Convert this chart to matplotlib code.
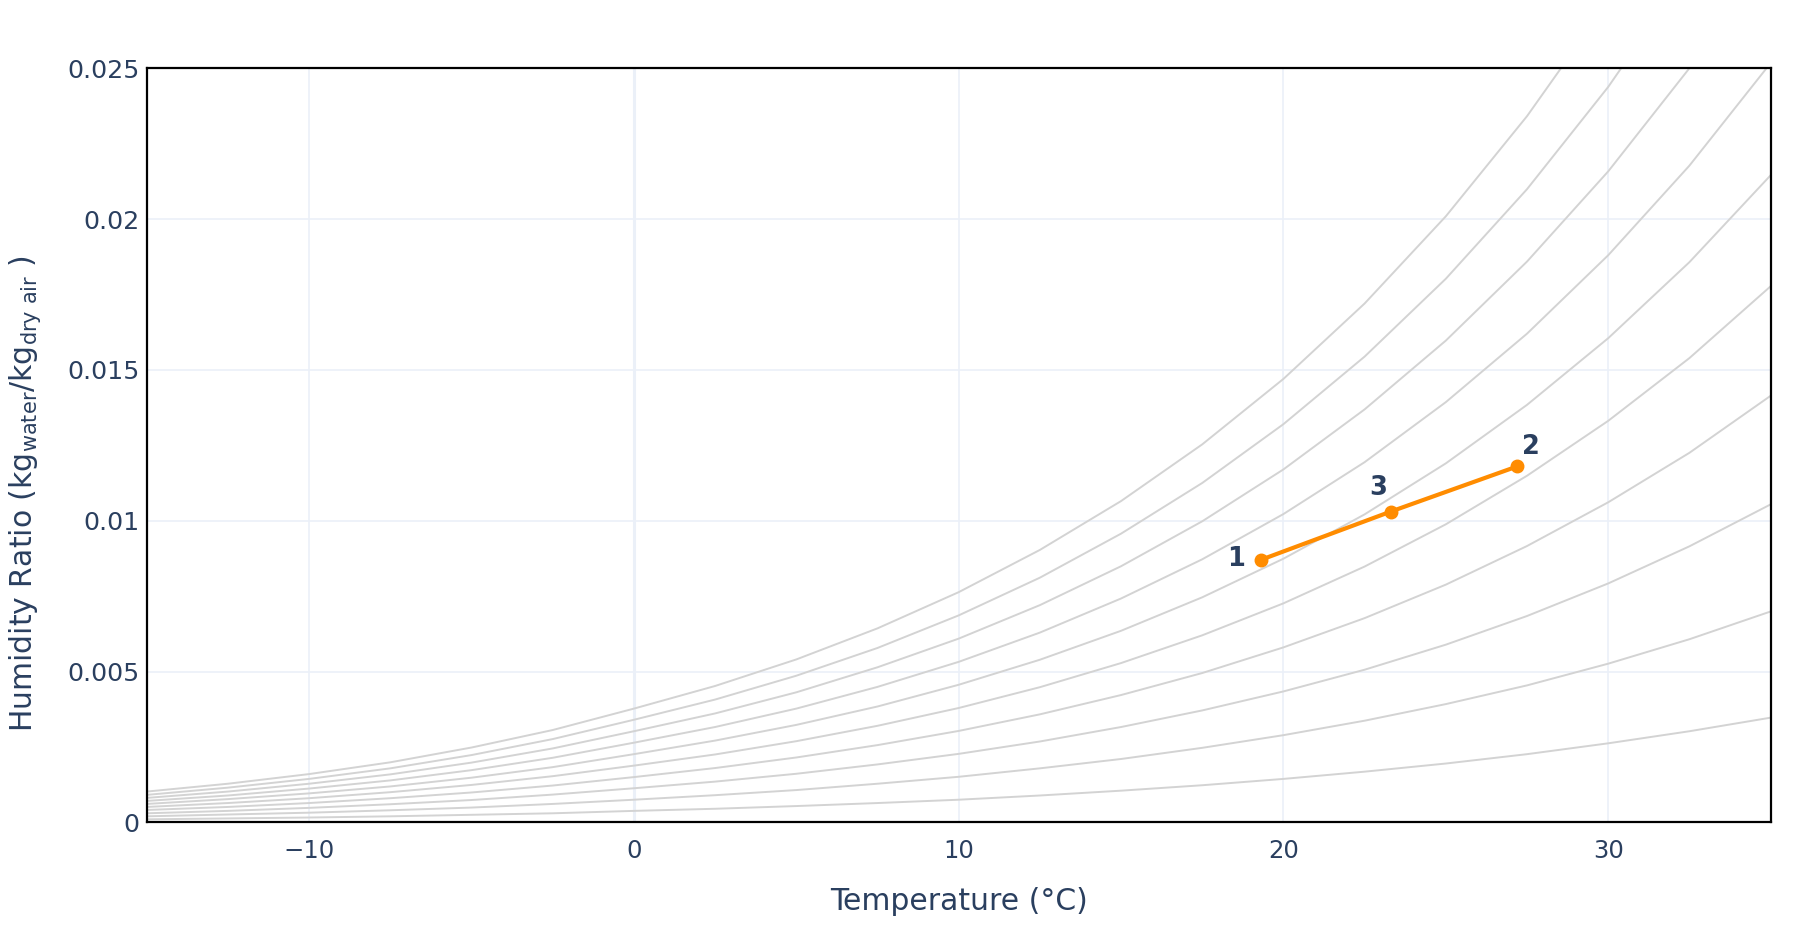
import matplotlib
matplotlib.use("Agg")
import matplotlib.pyplot as plt
from matplotlib.ticker import FuncFormatter

# dry-bulb temperatures (degC) where the RH curves are sampled
temps = [-15, -12.5, -10, -7.5, -5, -2.5, 0, 2.5, 5, 7.5, 10,
         12.5, 15, 17.5, 20, 22.5, 25, 27.5, 30, 32.5, 35]

# humidity ratio (g/kg) along each relative humidity curve, 10% .. 100%
rh10 = [0.10, 0.13, 0.16, 0.20, 0.25, 0.30, 0.38, 0.45, 0.54, 0.64, 0.75,
        0.89, 1.05, 1.23, 1.44, 1.68, 1.95, 2.26, 2.62, 3.02, 3.47]
rh20 = [0.20, 0.26, 0.32, 0.40, 0.49, 0.61, 0.75, 0.90, 1.07, 1.28, 1.51,
        1.79, 2.10, 2.47, 2.89, 3.37, 3.92, 4.54, 5.26, 6.07, 6.99]
rh30 = [0.30, 0.38, 0.48, 0.60, 0.74, 0.92, 1.13, 1.35, 1.61, 1.92, 2.27,
        2.68, 3.16, 3.71, 4.34, 5.06, 5.89, 6.84, 7.92, 9.15, 10.54]
rh40 = [0.41, 0.51, 0.64, 0.80, 0.99, 1.22, 1.50, 1.80, 2.15, 2.56, 3.03,
        3.58, 4.22, 4.95, 5.80, 6.77, 7.88, 9.16, 10.61, 12.25, 14.14]
rh50 = [0.51, 0.64, 0.80, 1.00, 1.24, 1.53, 1.88, 2.25, 2.69, 3.20, 3.79,
        4.48, 5.28, 6.20, 7.26, 8.48, 9.88, 11.49, 13.31, 15.39, 17.77]
rh60 = [0.61, 0.77, 0.96, 1.19, 1.48, 1.83, 2.26, 2.71, 3.23, 3.84, 4.56,
        5.39, 6.35, 7.46, 8.74, 10.21, 11.90, 13.84, 16.05, 18.57, 21.45]
rh70 = [0.71, 0.89, 1.12, 1.39, 1.73, 2.14, 2.64, 3.16, 3.77, 4.49, 5.32,
        6.29, 7.42, 8.72, 10.22, 11.94, 13.93, 16.20, 18.80, 21.77, 25.17]
rh80 = [0.81, 1.02, 1.28, 1.59, 1.98, 2.45, 3.02, 3.61, 4.31, 5.14, 6.09,
        7.20, 8.49, 9.98, 11.70, 13.69, 15.97, 18.59, 21.58, 25.00, 28.93]
rh90 = [0.91, 1.15, 1.44, 1.79, 2.23, 2.76, 3.40, 4.07, 4.86, 5.78, 6.86,
        8.11, 9.57, 11.25, 13.20, 15.44, 18.02, 20.99, 24.38, 28.27, 32.73]
rh100 = [1.02, 1.28, 1.60, 1.99, 2.48, 3.06, 3.77, 4.52, 5.40, 6.43, 7.63,
         9.03, 10.65, 12.53, 14.70, 17.20, 20.09, 23.41, 27.21, 31.57, 36.58]

rh_curves = [rh10, rh20, rh30, rh40, rh50, rh60, rh70, rh80, rh90, rh100]

# process states
state_labels = ["1", "3", "2"]
state_temp = [19.3, 23.3, 27.2]
state_w = [0.0087, 0.0103, 0.0118]

x_ticks = [-10, 0, 10, 20, 30]
y_ticks = [0, 0.005, 0.01, 0.015, 0.02, 0.025]

TEXT = "#2a3f5f"
GRID = "#ebf0f8"

fig = plt.figure(figsize=(18.11, 9.38), dpi=100)
ax = fig.add_axes([0.081, 0.1233, 0.8967, 0.804])

for ticks in x_ticks:
    ax.axvline(ticks, color=GRID, lw=2.2 if ticks == 0 else 1.2, zorder=0)
for ticks in y_ticks[1:-1]:
    ax.axhline(ticks, color=GRID, lw=1.2, zorder=0)

for curve in rh_curves:
    ax.plot(temps, [v / 1000 for v in curve], color="#d3d3d3", lw=1.4, zorder=1)

ax.plot(state_temp, state_w, color="#ff8c00", lw=3, marker="o",
        markersize=9, zorder=3)

offsets = {"1": (-18, 1), "3": (-9, 17), "2": (10, 14)}
for lab, tx, wy in zip(state_labels, state_temp, state_w):
    ax.annotate(lab, (tx, wy), xytext=offsets[lab], textcoords="offset points",
                ha="center", va="center", fontsize=18.5, fontweight="bold",
                color=TEXT, zorder=4)

ax.set_xlim(-15, 35)
ax.set_ylim(0, 0.025)
ax.set_xticks(x_ticks)
ax.set_yticks(y_ticks)
ax.yaxis.set_major_formatter(FuncFormatter(lambda v, p: f"{v:g}"))
ax.tick_params(length=0, labelcolor=TEXT)
ax.tick_params(axis="x", pad=12, labelsize=17.5)
ax.tick_params(axis="y", pad=5, labelsize=18.3)

for side in ax.spines.values():
    side.set_color("black")
    side.set_linewidth(1.6)

ax.set_xlabel("Temperature (°C)", fontsize=21.5, color=TEXT, labelpad=17)
ax.set_ylabel(r"Humidity Ratio (kg$_{\mathrm{water}}$/kg$_{\mathrm{dry\ air}}$ )",
              fontsize=21.5, color=TEXT)
ax.yaxis.set_label_coords(-0.064, 0.436)

fig.savefig("out.png", dpi=100)
